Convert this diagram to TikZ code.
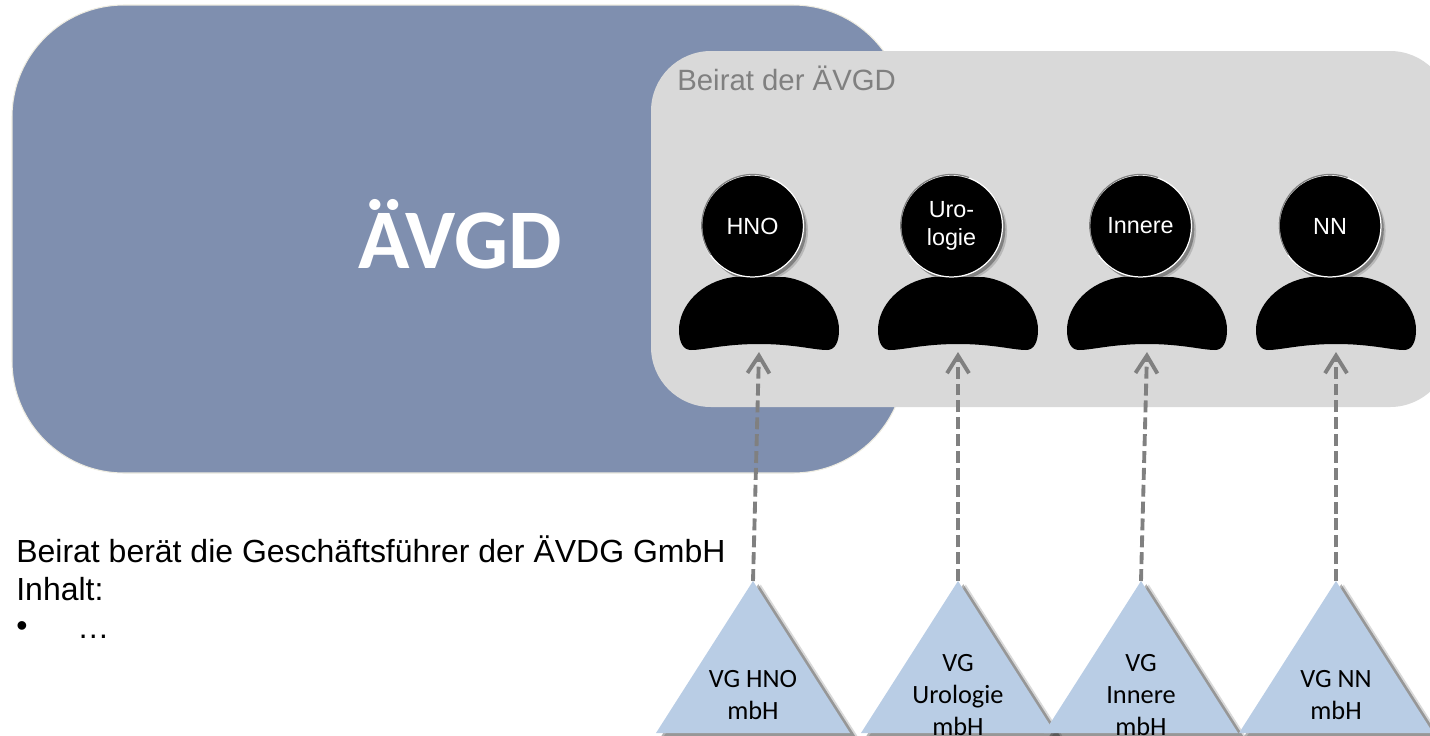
\documentclass[tikz,border=0pt]{standalone}
\usepackage{fontspec}
\setmainfont{Liberation Sans}
\newfontfamily\calfont{Carlito}
\usetikzlibrary{arrows.meta,shadows}
\definecolor{avgdblue}{HTML}{7F8FAF}
\definecolor{avgdrim}{HTML}{EEECE1}
\definecolor{beiratgrey}{HTML}{D9D9D9}
\definecolor{vgblue}{HTML}{B9CDE5}
\tikzset{
	avgdbox/.style={fill=avgdblue, draw=avgdrim, line width=0.6pt, rounded corners=2.24cm},
	beiratbox/.style={fill=beiratgrey, rounded corners=1.2cm},
	headnode/.style={circle, fill=black, draw=white, line width=0.7pt, minimum size=2.04cm, inner sep=0pt, text=white, align=center,
		font=\fontsize{13.3}{16}\selectfont,
		drop shadow={shadow xshift=2.6pt, shadow yshift=-2.8pt, fill=black, opacity=0.15},
		drop shadow={shadow xshift=1.6pt, shadow yshift=-2pt, fill=black, opacity=0.3}},
	headrim/.style={draw=gray, line width=0.7pt},
	vgtriangle/.style={fill=vgblue,
		drop shadow={shadow xshift=4.4pt, shadow yshift=-2pt, fill=black, opacity=0.15},
		drop shadow={shadow xshift=3pt, shadow yshift=-1.8pt, fill=black, opacity=0.3}},
	vglabel/.style={align=center, inner sep=0pt, font=\calfont\fontsize{15}{18.2}\selectfont},
	memberarrow/.style={draw=gray, line width=2.2pt, dash pattern=on 6.8pt off 2.8pt, -{Straight Barb[length=10pt, width=12.5pt]}},
	infotext/.style={anchor=base west, inner sep=0pt, font=\fontsize{18.2}{21}\selectfont},
	personbody/.pic={
		\fill[black] (-25,-73) .. controls (-58,-69) and (-80,-44) .. (-80,-20)
			.. controls (-80,-8) and (-76,0) .. (-68,0)
			.. controls (-55,0) and (-35,-6) .. (0,-6)
			.. controls (35,-6) and (55,0) .. (68,0)
			.. controls (76,0) and (80,-8) .. (80,-20)
			.. controls (80,-44) and (58,-69) .. (25,-73) -- cycle;
	}
}
\begin{document}
\begin{tikzpicture}[x=0.02cm, y=-0.02cm]
		\useasboundingbox (0,0) rectangle (1430,735);
		% boxes
		\draw[avgdbox] (12,5) rectangle (905,473);
		\fill[beiratbox] (651,51) rectangle (1450,407);
		\node[text=white, font=\calfont\bfseries\fontsize{48.3}{56}\selectfont, inner sep=0pt] (avgd) at (460,234) {ÄVGD};
		\node[anchor=base west, inner sep=0pt, text=gray, font=\fontsize{16.7}{20}\selectfont] (beirat) at (677,90) {Beirat der ÄVGD};
		% persons
		\coordinate (B1) at (759,350);
		\coordinate (B2) at (958,350);
		\coordinate (B3) at (1147,350);
		\coordinate (B4) at (1336,350);
		\pic at (B1) {personbody};
		\pic at (B2) {personbody};
		\pic at (B3) {personbody};
		\pic at (B4) {personbody};
		\node[headnode] (hno) at (752.5,226) {HNO};
		\node[headnode] (uro) at (951.5,226) {Uro-\\logie};
		\node[headnode] (inn) at (1140.5,226) {Innere};
		\node[headnode] (nn) at (1330,226) {NN};
		\draw[headrim] (hno.70) arc[start angle=70, end angle=215, radius=1.02cm];
		\draw[headrim] (uro.70) arc[start angle=70, end angle=215, radius=1.02cm];
		\draw[headrim] (inn.70) arc[start angle=70, end angle=215, radius=1.02cm];
		\draw[headrim] (nn.70) arc[start angle=70, end angle=215, radius=1.02cm];
		% companies
		\coordinate (T1) at (753,581);
		\coordinate (T2) at (958,581);
		\coordinate (T3) at (1141,581);
		\coordinate (T4) at (1336,581);
		\fill[vgtriangle] (T1) -- ++(97,152) -- ++(-194,0) -- cycle;
		\fill[vgtriangle] (T2) -- ++(97,152) -- ++(-194,0) -- cycle;
		\fill[vgtriangle] (T3) -- ++(97,152) -- ++(-194,0) -- cycle;
		\fill[vgtriangle] (T4) -- ++(97,152) -- ++(-194,0) -- cycle;
		\node[vglabel] (vghno) at (753,695) {VG HNO\\mbH};
		\node[vglabel] (vguro) at (958,695) {VG\\Urologie\\mbH};
		\node[vglabel] (vginn) at (1141,695) {VG\\Innere\\mbH};
		\node[vglabel] (vgnn) at (1336,695) {VG NN\\mbH};
		% arrows
		\coordinate (P1) at (759,352);
		\coordinate (P2) at (958,352);
		\coordinate (P3) at (1147,352);
		\coordinate (P4) at (1336,352);
		\draw[memberarrow] (T1) -- (P1);
		\draw[memberarrow] (T2) -- (P2);
		\draw[memberarrow] (T3) -- (P3);
		\draw[memberarrow] (T4) -- (P4);
		% text
		\node[infotext] (info1) at (16,562) {Beirat berät die Geschäftsführer der ÄVDG GmbH};
		\node[infotext] (info2) at (16,600) {Inhalt:};
		\node[infotext] (info3) at (16,636) {•};
		\node[infotext] (info4) at (77,638) {…};
	\end{tikzpicture}
\end{document}
